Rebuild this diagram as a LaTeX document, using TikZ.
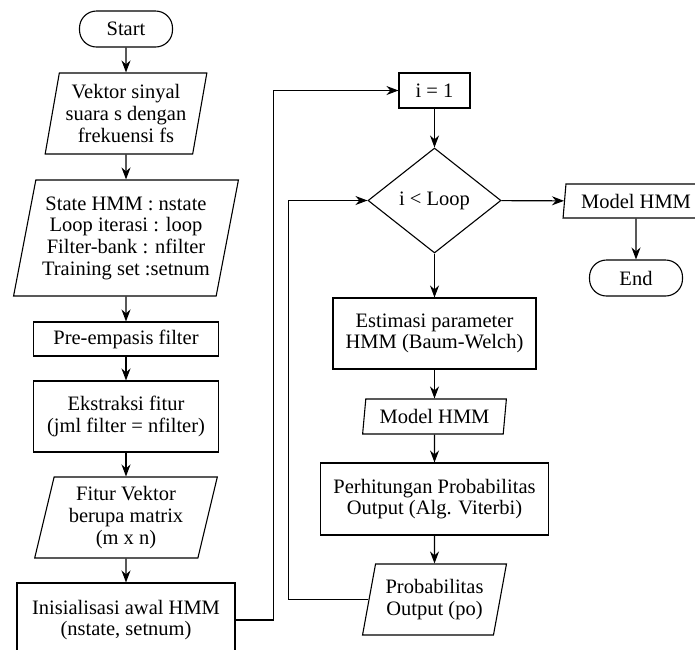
\documentclass[tikz,border=0pt]{standalone}
\usepackage{fontspec}
\setmainfont{Liberation Serif}
\usepackage{tikz}
\usetikzlibrary{shapes,arrows.meta,positioning}
\tikzset{
  every node/.style={
    font=\fontsize{20.5pt}{21.7pt}\selectfont
  },
  terminal/.style={
    shape=rectangle,
    rounded corners=17pt,
    draw=black,
    line width=1.1pt,
    minimum width=93pt,
    minimum height=36pt
  },
  process/.style n args={2}{
    shape=rectangle,
    draw=black,
    line width=1.1pt,
    minimum width=#1,
    minimum height=#2,
    inner sep=2pt,
    align=center
  },
  io/.style n args={3}{
    shape=trapezium,
    trapezium left angle=#1,
    trapezium right angle={180-#1},
    trapezium stretches=true,
    draw=black,
    line width=1.1pt,
    minimum width=#2,
    minimum height=#3,
    inner sep=0pt,
    align=center
  },
  decision/.style={
    shape=diamond,
    draw=black,
    line width=1.1pt,
    minimum width=133pt,
    minimum height=105pt,
    inner sep=0pt
  },
  flow/.style={
    -{Stealth[length=12pt,width=9pt]},
    line width=1.1pt
  }
}

\begin{document}
\begin{tikzpicture}[x=1pt,y=1pt]
    \useasboundingbox (0,0) rectangle (695,-649);
    \node [terminal] (start) at (126,-29) {Start};
    \node [io={77.5}{162pt}{81pt}] (vektor) at (126,-113.5) {Vektor sinyal\\suara s dengan\\frekuensi fs};
    \node [io={76}{225pt}{116pt}] (state) at (126,-238) {State HMM : nstate\\Loop iterasi : loop\\Filter-bank : nfilter\\Training set :setnum};
    \node [process={185pt}{34pt}] (preemp) at (126,-339) {Pre-empasis filter};
    \node [process={185pt}{71pt}] (ekstr) at (126,-416.5) {Ekstraksi fitur\\(jml filter = nfilter)};
    \node [io={76}{183pt}{81pt}] (fitur) at (126,-517.5) {Fitur Vektor\\berupa matrix\\(m x n)};
    \node [process={218pt}{74pt}] (init) at (126,-620) {Inisialisasi awal HMM\\(nstate, setnum)};
    \node [process={71pt}{35pt}] (ione) at (434.5,-90.5) {i = 1};
    \node [decision] (loop) at (434.5,-200.5) {i < Loop};
    \node [io={81}{146pt}{34pt}] (modelout) at (636,-201) {Model HMM};
    \node [terminal] (end) at (636,-278) {End};
    \node [process={203pt}{71pt}] (estim) at (434.5,-333.5) {Estimasi parameter\\HMM (Baum-Welch)};
    \node [io={80}{144pt}{35pt}] (model) at (434.5,-416.5) {Model HMM};
    \node [process={228pt}{72pt}] (perh) at (434.5,-499) {Perhitungan Probabilitas\\Output (Alg. Viterbi)};
    \node [io={75}{144pt}{71pt}] (prob) at (434.5,-599.5) {Probabilitas\\Output (po)};
    \draw [flow] (start) -- (vektor);
    \draw [flow] (vektor) -- (state);
    \draw [flow] (state) -- (preemp);
    \draw [flow] (preemp) -- (ekstr);
    \draw [flow] (ekstr) -- (fitur);
    \draw [flow] (fitur) -- (init);
    \draw [flow] (init.east) -- ++(38,0) |- (ione.west);
    \draw [flow] (ione) -- (loop);
    \draw [flow] (loop) -- (modelout);
    \draw [flow] (modelout) -- (end);
    \draw [flow] (loop) -- (estim);
    \draw [flow] (estim) -- (model);
    \draw [flow] (model) -- (perh);
    \draw [flow] (perh) -- (prob);
    \draw [flow] (prob.west) -- ++(-80,0) |- (loop.west);
\end{tikzpicture}
\end{document}
